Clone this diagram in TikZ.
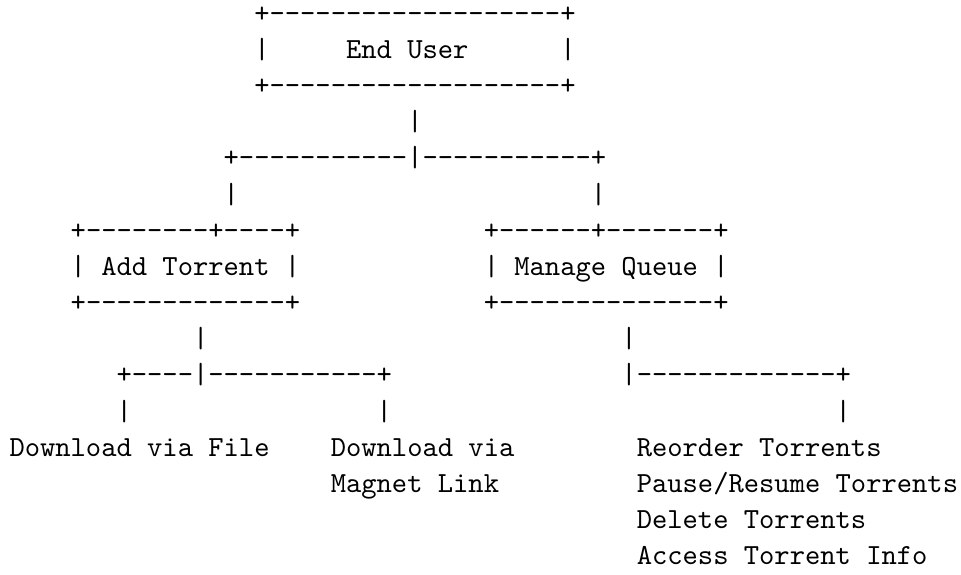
\documentclass[tikz,border=0pt]{standalone}
\usepackage{tikz}

\begin{document}
\begin{tikzpicture}[
  x=5.25pt, y=-12.41pt,
  ascii/.style={anchor=base west, inner sep=0pt, outer sep=0pt, font=\ttfamily},
]
\useasboundingbox (-3.26pt,7.65pt) rectangle (326.5pt,-189.35pt);

% === End User box ===
\node[ascii] (user-top) at (16,0) {+-------------------+};
\node[ascii] (user-l) at (16,1) {|};
\node[ascii] (user) at (22,1) {End User};
\node[ascii] (user-r) at (36,1) {|};
\node[ascii] (user-bot) at (16,2) {+-------------------+};
\node[ascii] (user-stem) at (26,3) {|};

% === Split to the two actions ===
\node[ascii] (split) at (14,4) {+-----------|-----------+};
\node[ascii] (split-l) at (14,5) {|};
\node[ascii] (split-r) at (38,5) {|};

% === Add Torrent / Manage Queue boxes ===
\node[ascii] (add-top) at (4,6) {+--------+----+};
\node[ascii] (add) at (4,7) {| Add Torrent |};
\node[ascii] (add-bot) at (4,8) {+-------------+};

\node[ascii] (queue-top) at (31,6) {+------+-------+};
\node[ascii] (queue) at (31,7) {| Manage Queue |};
\node[ascii] (queue-bot) at (31,8) {+--------------+};

\node[ascii] (add-stem) at (12,9) {|};
\node[ascii] (queue-stem) at (40,9) {|};

% === Branches below the boxes ===
\node[ascii] (add-split) at (7,10) {+----|-----------+};
\node[ascii] (queue-split) at (40,10) {|-------------+};
\node[ascii] (file-stem) at (7,11) {|};
\node[ascii] (magnet-stem) at (24,11) {|};
\node[ascii] (ops-stem) at (54,11) {|};

% === Leaves ===
\node[ascii] (file) at (0,12) {Download via File};
\node[ascii] (magnet) at (21,12) {Download via};
\node[ascii] (magnet2) at (21,13) {Magnet Link};
\node[ascii] (reorder) at (41,12) {Reorder Torrents};
\node[ascii] (pause) at (41,13) {Pause/Resume Torrents};
\node[ascii] (delete) at (41,14) {Delete Torrents};
\node[ascii] (info) at (41,15) {Access Torrent Info};

\end{tikzpicture}
\end{document}
